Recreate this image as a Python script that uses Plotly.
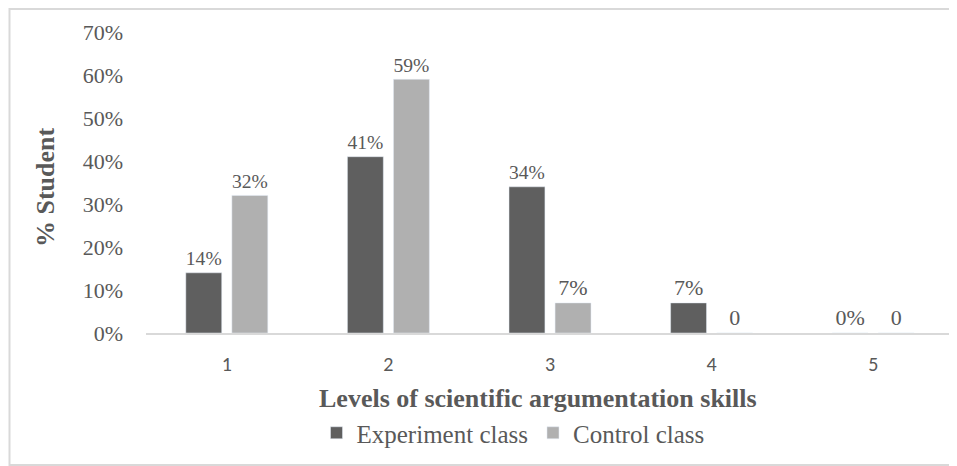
import plotly.graph_objects as go

levels = ["1", "2", "3", "4", "5"]
experiment = [0.14, 0.41, 0.34, 0.07, 0.0]
control = [0.32, 0.59, 0.07, 0.0, 0.0]
experiment_labels = ["14%", "41%", "34%", "7%", "0%"]
control_labels = ["32%", "59%", "7%", "0", "0"]
y_ticks = [0, 0.1, 0.2, 0.3, 0.4, 0.5, 0.6, 0.7]
y_tick_labels = ["0%", "10%", "20%", "30%", "40%", "50%", "60%", "70%"]

serif = "Times New Roman, Liberation Serif, serif"
txt = "#595959"

# the page body adds an 8px offset; positions below are in figure pixels
OFF = 8
L, R, T, B = 146 - OFF, 954 - OFF, 32 - OFF, 333 - OFF
W, H = R - L, B - T

def px(x):
    return (x - OFF - L) / W

def py(y):
    return (B - (y - OFF)) / H

fig = go.Figure()
fig.add_bar(x=levels, y=experiment, name="Experiment class", marker_color="#5f5f5f",
            text=experiment_labels, textposition="outside", cliponaxis=False,
            textfont=dict(family=serif, size=22, color=txt))
fig.add_bar(x=levels, y=control, name="Control class", marker_color="#b0b0b0",
            text=control_labels, textposition="outside", cliponaxis=False,
            textfont=dict(family=serif, size=22, color=txt))

fig.update_layout(
    width=957, height=466,
    margin=dict(l=L, r=957 - R, t=T, b=466 - B),
    paper_bgcolor="white", plot_bgcolor="white",
    barmode="group", bargap=0.43, bargroupgap=0.22,
    showlegend=True,
    legend=dict(orientation="h", x=px(513), xanchor="center",
                y=py(433), yanchor="middle",
                font=dict(family=serif, size=25, color=txt),
                traceorder="normal"),
    xaxis=dict(
        showgrid=False, showline=True, linecolor="#d9d9d9", linewidth=2,
        ticks="", ticklabelstandoff=12, automargin=False,
        tickfont=dict(family="Carlito, Calibri, Open Sans, sans-serif", size=20, color=txt),
    ),
    yaxis=dict(
        range=[0, 0.7], tickvals=y_ticks, ticktext=y_tick_labels,
        showgrid=False, zeroline=False, showline=False, ticks="",
        ticklabelstandoff=22, automargin=False,
        tickfont=dict(family=serif, size=22, color=txt),
    ),
    annotations=[
        dict(text="<b>Levels of scientific argumentation skills</b>", xref="paper", yref="paper",
             x=px(538), y=py(398), xanchor="center", yanchor="middle",
             showarrow=False, font=dict(family=serif, size=26, color=txt)),
        dict(text="<b>% Student</b>", xref="paper", yref="paper", textangle=-90,
             x=px(46), y=py(187), xanchor="center", yanchor="middle",
             showarrow=False, font=dict(family=serif, size=26, color=txt)),
    ],
    shapes=[dict(type="rect", xref="paper", yref="paper",
                 x0=px(9.5), x1=px(975),
                 y0=py(465), y1=py(9),
                 line=dict(color="#d9d9d9", width=2), layer="below")],
)

fig.write_html("out.html")
